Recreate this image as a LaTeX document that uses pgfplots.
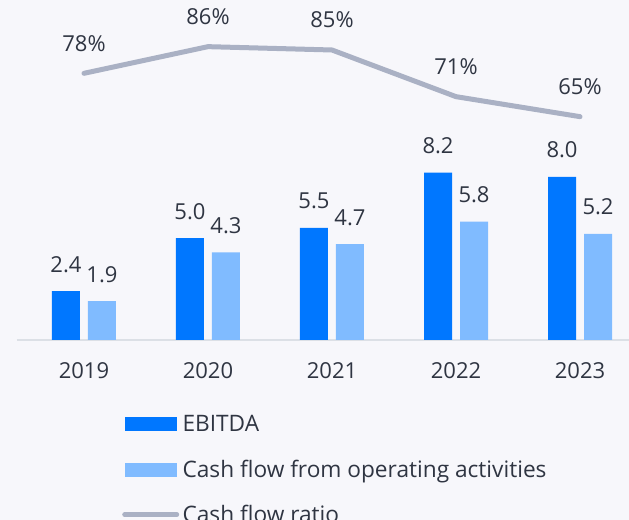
\documentclass[border=0pt]{standalone}
\usepackage{pgfplots}
\pgfplotsset{compat=1.18}
\usepackage{fontspec}
\setmainfont{Open Sans}
\definecolor{bgc}{RGB}{247,247,251}
\definecolor{ebitda}{RGB}{0,119,255}
\definecolor{cfo}{RGB}{128,187,255}
\definecolor{ratio}{RGB}{170,177,196}
\definecolor{txt}{RGB}{47,53,66}
\definecolor{base}{RGB}{220,224,230}
\begin{document}
\begin{tikzpicture}
\fill[bgc] (0,0) rectangle (471.75pt,390pt);
\path[use as bounding box, clip] (0,0) rectangle (471.75pt,390pt);
\begin{axis}[
  at={(12.75pt,135pt)}, anchor=south west,
  scale only axis, width=459pt, height=255pt,
  xmin=-0.540, xmax=4.395, ymin=0, ymax=16.67,
  axis x line=bottom, axis y line=none,
  axis line style={-, base, line width=1.5pt},
  xtick={0,1,2,3,4}, xticklabels={2019,2020,2021,2022,2023},
  major tick length=0pt,
  xticklabel style={font=\fontsize{16.5pt}{19pt}\selectfont, text=txt, inner sep=0pt, yshift=-16.5pt},
  ytick=\empty,
  clip=false,
  legend style={at={(axis description cs:0.1650,-0.2147)}, anchor=north west, draw=none, fill=none,
    font=\fontsize{17pt}{20pt}\selectfont, text=txt,
    nodes={inner sep=0pt, text height=12pt, text depth=4pt},
    row sep=18pt, column sep=2.5pt},
  legend cell align=left,
]
\addplot[ybar, bar width=21pt, bar shift=-13.5pt, fill=ebitda, draw=none,
  nodes near coords={\pgfmathprintnumber[fixed,fixed zerofill,precision=1,assume math mode=true]{\pgfplotspointmeta}},
  every node near coord/.append style={anchor=base, yshift=14.25pt, xshift=-13.5pt, text=txt, font=\fontsize{16.5pt}{19pt}\selectfont},
  legend image code/.code={\fill[ebitda] (0pt,-3.5pt) rectangle (39pt,7pt);}]
  coordinates {(0,2.4) (1,5.0) (2,5.5) (3,8.2) (4,8.0)};
\addlegendentry{EBITDA}
\addplot[ybar, bar width=21pt, bar shift=13.5pt, fill=cfo, draw=none,
  nodes near coords={\pgfmathprintnumber[fixed,fixed zerofill,precision=1,assume math mode=true]{\pgfplotspointmeta}},
  every node near coord/.append style={anchor=base, yshift=14.25pt, xshift=13.5pt, text=txt, font=\fontsize{16.5pt}{19pt}\selectfont},
  legend image code/.code={\fill[cfo] (0pt,-3.5pt) rectangle (39pt,7pt);}]
  coordinates {(0,1.9) (1,4.3) (2,4.7) (3,5.8) (4,5.2)};
\addlegendentry{Cash flow from operating activities}
\addlegendimage{legend image code/.code={\draw[ratio, line width=3.75pt, line cap=round] (-0.5pt,2pt) -- (38.5pt,2pt);}}
\addlegendentry{Cash flow ratio}
\end{axis}
\begin{axis}[
  at={(12.75pt,135pt)}, anchor=south west,
  scale only axis, width=459pt, height=255pt,
  xmin=-0.540, xmax=4.395, ymin=-2, ymax=100,
  hide axis, clip=false,
]
\addplot[ratio, line width=3.75pt, line cap=round, line join=round,
  nodes near coords={\pgfmathprintnumber[fixed,precision=0,assume math mode=true]{\pgfplotspointmeta}\%},
  every node near coord/.append style={anchor=base, yshift=16.5pt, text=txt, font=\fontsize{16.5pt}{19pt}\selectfont}]
  coordinates {(0,78) (1,86) (2,85) (3,71) (4,65)};
\end{axis}
\end{tikzpicture}
\end{document}
